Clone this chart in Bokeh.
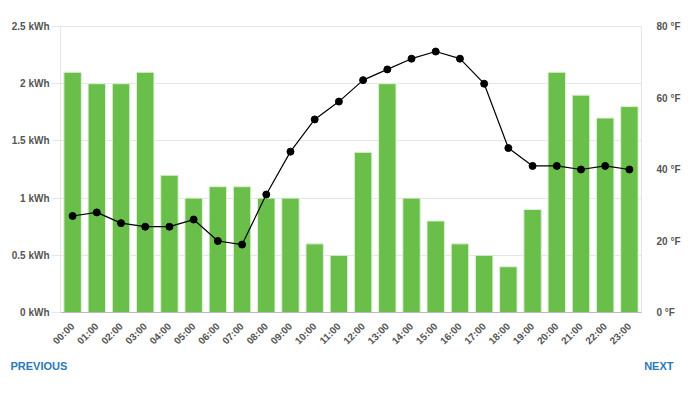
from bokeh.plotting import figure
from bokeh.models import Range1d, LinearAxis, FixedTicker, Label, FactorRange
from bokeh.layouts import column
from bokeh.embed import file_html
from bokeh.resources import INLINE

hours = ["00:00", "01:00", "02:00", "03:00", "04:00", "05:00", "06:00", "07:00",
         "08:00", "09:00", "10:00", "11:00", "12:00", "13:00", "14:00", "15:00",
         "16:00", "17:00", "18:00", "19:00", "20:00", "21:00", "22:00", "23:00"]
energy_kwh = [2.1, 2.0, 2.0, 2.1, 1.2, 1.0, 1.1, 1.1, 1.0, 1.0, 0.6, 0.5,
              1.4, 2.0, 1.0, 0.8, 0.6, 0.5, 0.4, 0.9, 2.1, 1.9, 1.7, 1.8]
temp_f = [27, 28, 25, 24, 24, 26, 20, 19, 33, 45, 54, 59,
          65, 68, 71, 73, 71, 64, 46, 41, 41, 40, 41, 40]
kwh_ticks = [0, 0.5, 1, 1.5, 2, 2.5]
kwh_labels = ["0 kWh", "0.5 kWh", "1 kWh", "1.5 kWh", "2 kWh", "2.5 kWh"]
temp_ticks = [0, 20, 40, 60, 80]
temp_labels = ["0 °F", "20 °F", "40 °F", "60 °F", "80 °F"]

FONT = "Liberation Sans"
LABEL_COLOR = "#555555"

p = figure(width=692, height=353, output_backend="svg", toolbar_location=None,
           x_range=FactorRange(*hours, range_padding=0), y_range=Range1d(0, 2.5),
           min_border_left=60, min_border_right=51, min_border_top=26, min_border_bottom=34)
p.extra_y_ranges = {"temp": Range1d(0, 80)}
p.frame_align = False

p.vbar(x=hours, top=energy_kwh, width=0.72, fill_color="#6abf4b",
       line_color="#dff0d6", line_width=1)
p.line(x=hours, y=temp_f, y_range_name="temp", line_color="black", line_width=1.2)
p.scatter(x=hours, y=temp_f, y_range_name="temp", size=7, fill_color="black",
          line_color="black")

p.outline_line_color = "#e6e6e6"
p.xgrid.grid_line_color = None
p.ygrid.grid_line_color = "#e6e6e6"
p.ygrid.ticker = FixedTicker(ticks=kwh_ticks)

ya = p.yaxis[0]
ya.ticker = FixedTicker(ticks=kwh_ticks)
ya.major_label_overrides = {t: l for t, l in zip(kwh_ticks, kwh_labels)}
ya.axis_line_color = "#e6e6e6"
ya.major_tick_line_color = "#e6e6e6"
ya.major_tick_out = 9
ya.major_tick_in = 0
ya.minor_tick_line_color = None
ya.major_label_standoff = 2

ra = LinearAxis(y_range_name="temp", ticker=FixedTicker(ticks=temp_ticks))
ra.major_label_overrides = {t: l for t, l in zip(temp_ticks, temp_labels)}
ra.axis_line_color = None
ra.major_tick_line_color = None
ra.minor_tick_line_color = None
ra.major_label_standoff = 9
p.add_layout(ra, "right")

xa = p.xaxis[0]
xa.major_label_orientation = 0.785398
xa.axis_line_color = "#bbbbbb"
xa.major_tick_line_color = None
xa.minor_tick_line_color = None
xa.major_label_standoff = 6

for ax in (ya, ra, xa):
    ax.major_label_text_font = FONT
    ax.major_label_text_font_size = "10px"
    ax.major_label_text_font_style = "bold"
    ax.major_label_text_color = LABEL_COLOR

nav = figure(width=692, height=40, output_backend="svg", toolbar_location=None,
             x_range=Range1d(0, 692), y_range=Range1d(0, 40),
             x_axis_location=None, y_axis_location=None,
             min_border=0, outline_line_color=None)
nav.frame_align = False
nav.grid.visible = False
prev_lbl = Label(x=10, y=28, x_units="screen", y_units="screen", text="PREVIOUS",
                 text_font=FONT, text_font_size="11px", text_font_style="bold",
                 text_color="#2a7ab8", text_baseline="middle", text_align="left")
next_lbl = Label(x=673, y=28, x_units="screen", y_units="screen", text="NEXT",
                 text_font=FONT, text_font_size="11px", text_font_style="bold",
                 text_color="#2a7ab8", text_baseline="middle", text_align="right")
nav.add_layout(prev_lbl)
nav.add_layout(next_lbl)

layout = column(p, nav, spacing=0)
open("out.html", "w").write(file_html(layout, INLINE))
